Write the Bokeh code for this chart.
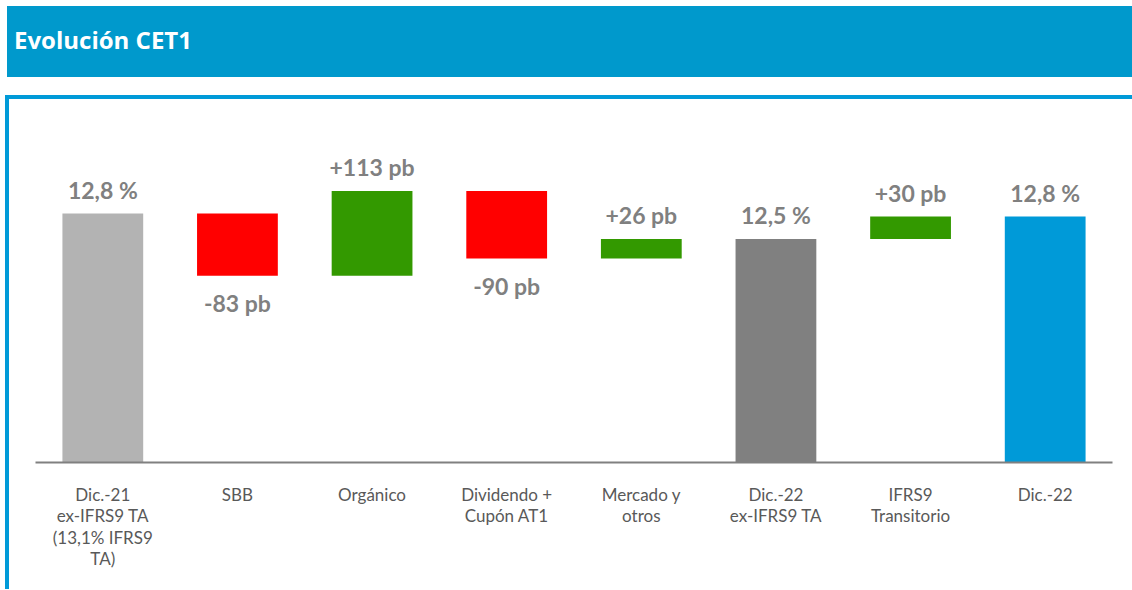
from bokeh.plotting import figure
from bokeh.models import ColumnDataSource, FactorRange, Range1d, Div, Spacer
from bokeh.layouts import column, row
from bokeh.embed import file_html
from bokeh.resources import INLINE
from bokeh.core.properties import value

# ---- data ----
title = "Evolución CET1"
categories = [
    "Dic.-21\nex-IFRS9 TA\n(13,1% IFRS9\nTA)",
    "SBB",
    "Orgánico",
    "Dividendo +\nCupón AT1",
    "Mercado y\notros",
    "Dic.-22\nex-IFRS9 TA",
    "IFRS9\nTransitorio",
    "Dic.-22",
]
kinds = ["start", "delta", "delta", "delta", "delta", "subtotal", "delta", "end"]
totals_pct = [12.80, None, None, None, None, 12.46, None, 12.76]
changes_pb = [None, -83, 113, -90, 26, None, 30, None]

# ---- styles ----
BANNER = "#0099CC"
BORDER = "#009AD8"
kind_colors = {"start": "#B3B3B3", "subtotal": "#808080", "end": "#009AD8"}
POS, NEG = "#339900", "#FF0000"

bottoms, tops, labels, label_y, offsets, colors = [], [], [], [], [], []
level = None
for k, t, c in zip(kinds, totals_pct, changes_pb):
    if c is None:
        level = t
        bottoms.append(0)
        tops.append(t)
        labels.append(f"{t:.1f} %".replace(".", ","))
        label_y.append(t)
        offsets.append(-24)
        colors.append(kind_colors[k])
    else:
        new = level + c / 100.0
        bottoms.append(min(level, new))
        tops.append(max(level, new))
        labels.append(f"{c:+d} pb")
        label_y.append(new)
        offsets.append(27 if c < 0 else -24)
        colors.append(NEG if c < 0 else POS)
        level = new

src = ColumnDataSource(dict(cat=categories, bottom=bottoms, top=tops, label=labels,
                            ly=label_y, yoff=offsets, color=colors))

FIG_H = 490
p = figure(x_range=FactorRange(factors=categories, range_padding=0),
           y_range=Range1d(9.48, 14.04),
           width=1123, height=FIG_H, output_backend="svg", toolbar_location=None,
           y_axis_location=None, min_border_left=26, min_border_right=20,
           min_border_top=21, min_border_bottom=FIG_H - 21 - 342,
           margin=(0, 0, 0, 0))
p.outline_line_color = None
p.background_fill_color = "white"
p.border_fill_color = "white"
p.grid.grid_line_color = None

p.vbar(x="cat", bottom="bottom", top="top", width=0.6, fill_color="color",
       line_color=None, source=src)
p.text(x="cat", y="ly", text="label", y_offset="yoff", source=src,
       text_font=value("Lato"), text_font_style="bold", text_font_size="23px",
       text_color="#808080", text_align="center", text_baseline="middle")

ax = p.xaxis[0]
ax.axis_line_color = "#808080"
ax.axis_line_width = 2
ax.major_tick_line_color = None
ax.minor_tick_line_color = None
ax.major_label_text_font = "Lato"
ax.major_label_text_font_size = "17px"
ax.major_label_text_color = "#595959"
ax.major_label_text_line_height = 1.03
ax.major_label_standoff = 15

banner = Div(text=f'<div style="font-family:\'Open Sans\';font-weight:bold;font-size:24px;'
                  f'color:white;line-height:67px;padding-left:7px;white-space:nowrap;">{title}</div>',
             width=1125, height=71, margin=(6, 0, 0, 7),
             styles={"background-color": BANNER})
gap = Spacer(width=1127, height=18, margin=(0, 0, 0, 5))
top_border = Div(text="", width=1127, height=4, margin=(0, 0, 0, 5),
                 styles={"background-color": BORDER})
left_border = Div(text="", width=4, height=FIG_H, margin=(0, 0, 0, 5),
                  styles={"background-color": BORDER})

layout = column(banner, gap, top_border, row(left_border, p, spacing=0), spacing=0)

open("out.html", "w").write(file_html(layout, INLINE))
